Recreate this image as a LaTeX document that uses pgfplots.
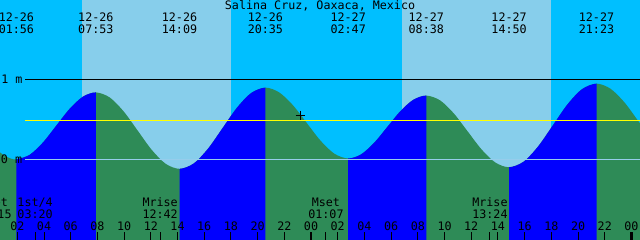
\documentclass[border=0pt]{standalone}
\usepackage{pgfplots}
\pgfplotsset{compat=1.18}
\usepgfplotslibrary{fillbetween}
\usepackage{fontspec}
\setmonofont{DejaVu Sans Mono}
\definecolor{night}{RGB}{0,191,255}
\definecolor{day}{RGB}{135,206,235}
\definecolor{flood}{RGB}{0,0,255}
\definecolor{ebb}{RGB}{46,139,87}
\definecolor{zeroc}{RGB}{150,205,235}
\definecolor{ylw}{RGB}{255,255,0}
\newcommand{\tf}{\ttfamily\fontsize{11.7bp}{14bp}\selectfont}
\tikzset{lbl/.style={anchor=base, font=\tf, inner sep=0pt}}
\tikzset{fill between/on layer=main}
\begin{document}
\begin{tikzpicture}
\begin{axis}[
  width=640bp, height=240bp, scale only axis,
  xmin=0.704, xmax=48.64, ymin=-1.014, ymax=2.001,
  axis x line=bottom, axis y line=none,
  x axis line style={draw=none,-},
  ytick=\empty,
  xtick={2,4,...,48},
  xticklabels={02,04,06,08,10,12,14,16,18,20,22,00,02,04,06,08,10,12,14,16,18,20,22,00},
  minor xtick={0.25,3.333,12.7,25.117,37.4},
  extra x ticks={24,48}, extra x tick labels={},
  extra x tick style={major tick style={line width=2.5bp, black}},
  tick align=inside,
  major tick length=8bp, minor tick length=8bp,
  every tick/.style={black, line width=1bp},
  xticklabel style={font=\tf, anchor=base, yshift=10bp, inner sep=0pt},
  axis on top,
]
% sky: night and day
\addplot[draw=none, fill=night] coordinates {(0,-1.2) (0,2.2) (50,2.2) (50,-1.2)} -- cycle;
\addplot[draw=none, fill=day] coordinates {(6.846,-1.2) (6.846,2.2) (18.01,2.2) (18.01,-1.2)} -- cycle;
\addplot[draw=none, fill=day] coordinates {(30.82,-1.2) (30.82,2.2) (41.98,2.2) (41.98,-1.2)} -- cycle;
% tide curve (m)
\addplot[name path=curve, draw=none, smooth] coordinates {
(0.3,0.14) (1.0,0.05) (1.5,0.01)
(1.933,0.00) (2.925,0.056) (3.916,0.21) (4.908,0.42) (5.900,0.63) (6.891,0.784)
(7.883,0.84) (8.928,0.776) (9.972,0.60) (11.017,0.36) (12.061,0.12) (13.106,-0.056)
(14.15,-0.12) (15.222,-0.052) (16.294,0.135) (17.367,0.39) (18.439,0.645) (19.511,0.832)
(20.583,0.90) (21.617,0.840) (22.650,0.678) (23.683,0.455) (24.717,0.233) (25.750,0.070)
(26.783,0.01) (27.758,0.063) (28.733,0.208) (29.708,0.405) (30.683,0.603) (31.658,0.747)
(32.633,0.80) (33.667,0.740) (34.700,0.575) (35.733,0.35) (36.767,0.125) (37.800,-0.040)
(38.833,-0.10) (39.925,-0.030) (41.017,0.163) (42.108,0.425) (43.200,0.688) (44.292,0.880)
(45.383,0.95) (46.433,0.886) (47.483,0.713) (48.533,0.475) (49.583,0.238)
};
\addplot[name path=bottom, draw=none] coordinates {(0,-1.3) (50,-1.3)};
\addplot[ebb] fill between[of=curve and bottom];
\addplot[flood] fill between[of=curve and bottom, soft clip={domain=1.933:7.883}];
\addplot[flood] fill between[of=curve and bottom, soft clip={domain=14.15:20.583}];
\addplot[flood] fill between[of=curve and bottom, soft clip={domain=26.783:32.633}];
\addplot[flood] fill between[of=curve and bottom, soft clip={domain=38.833:45.383}];
% reference lines
\addplot[black, line width=1bp] coordinates {(2.577,1) (50,1)};
\addplot[zeroc, line width=1bp] coordinates {(2.577,0) (50,0)};
\addplot[ylw, line width=1bp] coordinates {(2.577,0.49) (50,0.49)};
% current time
\addplot[only marks, mark=+, mark size=4.5bp, black, line width=1bp] coordinates {(23.18,0.556)};
% labels
\node[lbl] at (axis cs:1.60,0.955) {1 m};
\node[lbl] at (axis cs:1.57,-0.05) {0 m};
\node[lbl] at (axis cs:24.674,1.879) {Salina Cruz, Oaxaca, Mexico};
\node[lbl] at (axis cs:1.933,1.729) {12-26};
\node[lbl] at (axis cs:1.933,1.583) {01:56};
\node[lbl] at (axis cs:7.883,1.729) {12-26};
\node[lbl] at (axis cs:7.883,1.583) {07:53};
\node[lbl] at (axis cs:14.15,1.729) {12-26};
\node[lbl] at (axis cs:14.15,1.583) {14:09};
\node[lbl] at (axis cs:20.583,1.729) {12-26};
\node[lbl] at (axis cs:20.583,1.583) {20:35};
\node[lbl] at (axis cs:26.783,1.729) {12-27};
\node[lbl] at (axis cs:26.783,1.583) {02:47};
\node[lbl] at (axis cs:32.633,1.729) {12-27};
\node[lbl] at (axis cs:32.633,1.583) {08:38};
\node[lbl] at (axis cs:38.833,1.729) {12-27};
\node[lbl] at (axis cs:38.833,1.583) {14:50};
\node[lbl] at (axis cs:45.383,1.729) {12-27};
\node[lbl] at (axis cs:45.383,1.583) {21:23};
\node[lbl] at (axis cs:0.25,-0.595) {Mset};
\node[lbl] at (axis cs:0.25,-0.741) {00:15};
\node[lbl] at (axis cs:3.333,-0.595) {1st/4};
\node[lbl] at (axis cs:3.333,-0.741) {03:20};
\node[lbl] at (axis cs:12.7,-0.595) {Mrise};
\node[lbl] at (axis cs:12.7,-0.741) {12:42};
\node[lbl] at (axis cs:25.117,-0.595) {Mset};
\node[lbl] at (axis cs:25.117,-0.741) {01:07};
\node[lbl] at (axis cs:37.4,-0.595) {Mrise};
\node[lbl] at (axis cs:37.4,-0.741) {13:24};
\end{axis}
\pgfresetboundingbox
\path[use as bounding box] (current axis.south west) rectangle (current axis.north east);
\end{tikzpicture}
\end{document}
